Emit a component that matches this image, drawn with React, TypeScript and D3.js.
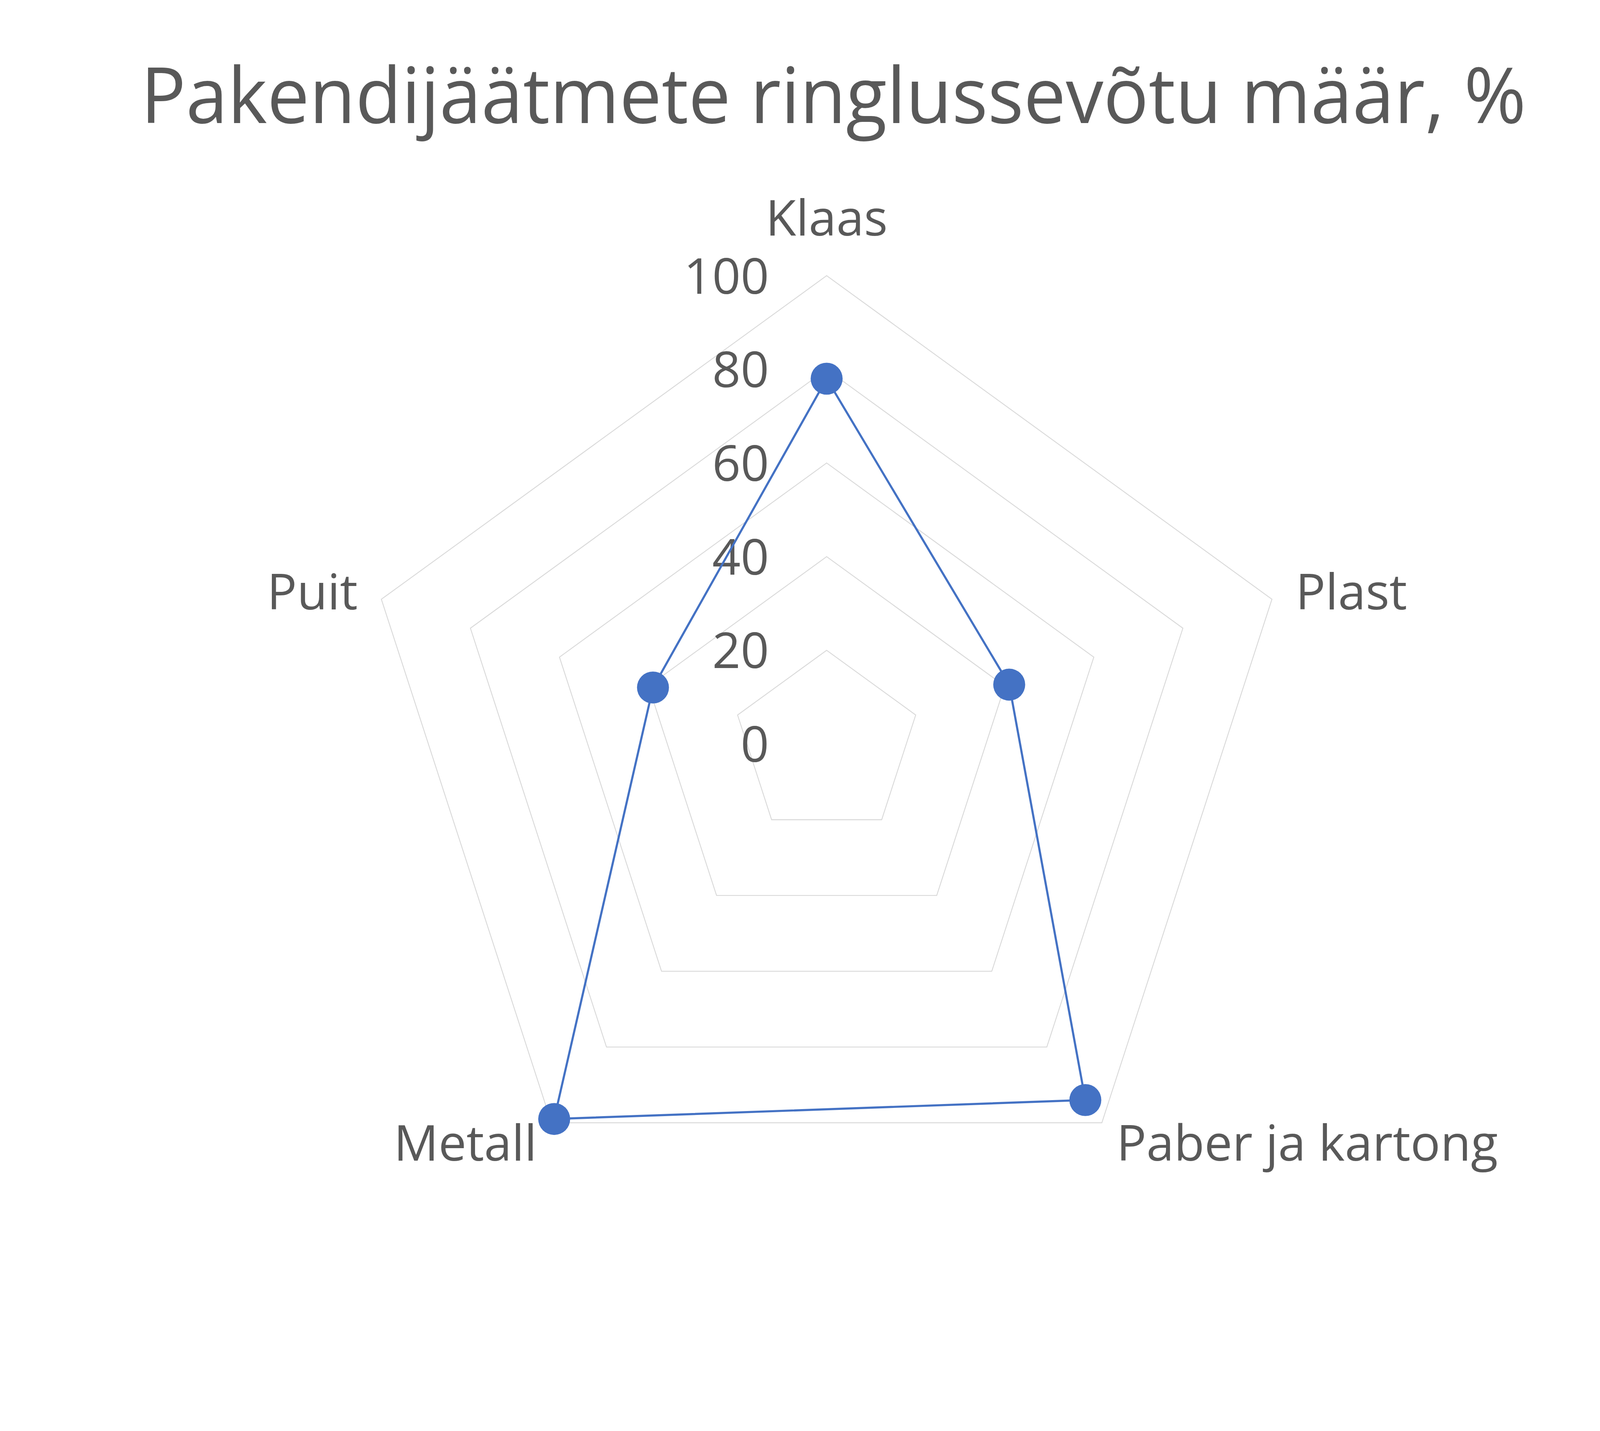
import * as d3 from 'd3'

const categories = ['Klaas', 'Plast', 'Paber ja kartong', 'Metall', 'Puit']
const values = [78, 41, 94, 99, 39]
const ticks = [0, 20, 40, 60, 80, 100]
const title = 'Pakendijäätmete ringlussevõtu määr, %'

const WIDTH = 4504
const HEIGHT = 3663
const CX = 2327
const CY = 2094
const RADIUS = 1318
const TEXT = '#595959'
const GRID = '#D9D9D9'
const SERIES = '#4472C4'
const FONT = '"Open Sans", "Noto Sans", sans-serif'

export default function App() {
  const r = d3.scaleLinear().domain([0, 100]).range([0, RADIUS])
  const angle = d3
    .scalePoint<string>()
    .domain(categories)
    .range([0, 2 * Math.PI * (1 - 1 / categories.length)])

  const radial = d3
    .lineRadial<number>()
    .angle((_, i) => angle(categories[i]) ?? 0)
    .radius(d => r(d))
    .curve(d3.curveLinearClosed)

  // 점 좌표 (위쪽이 0°, 시계방향)
  const point = (cat: string, v: number): [number, number] => {
    const a = angle(cat) ?? 0
    return [Math.sin(a) * r(v), -Math.cos(a) * r(v)]
  }

  return (
    <svg
      viewBox={`0 0 ${WIDTH} ${HEIGHT}`}
      preserveAspectRatio="xMidYMin meet"
      style={{ position: 'fixed', left: 0, top: 0, width: '100vw', height: '100vh', background: '#fff' }}
    >
      <text
        x={2346}
        y={346}
        textAnchor="middle"
        fontFamily={FONT}
        fontSize={217}
        fill={TEXT}
        textLength={3900}
        lengthAdjust="spacingAndGlyphs"
      >
        {title}
      </text>

      <g transform={`translate(${CX},${CY})`}>
        {/* 그리드 */}
        {ticks.slice(1).map(t => (
          <path
            key={t}
            d={radial(categories.map(() => t)) || ''}
            fill="none"
            stroke={GRID}
            strokeWidth={2.5}
          />
        ))}

        {/* 눈금 레이블 */}
        {ticks.map(t => (
          <text
            key={t}
            x={-162}
            y={-r(t)}
            dy="0.36em"
            textAnchor="end"
            fontFamily={FONT}
            fontSize={140}
            fill={TEXT}
          >
            {t}
          </text>
        ))}

        {/* 카테고리 레이블 */}
        {categories.map(cat => {
          const a = angle(cat) ?? 0
          const sx = Math.sin(a)
          const sy = -Math.cos(a)
          const [vx, vy] = point(cat, 100)
          if (Math.abs(sx) < 0.1) {
            return (
              <text key={cat} x={vx} y={vy - 113} textAnchor="middle" fontFamily={FONT} fontSize={140} fill={TEXT}>
                {cat}
              </text>
            )
          }
          return (
            <text
              key={cat}
              x={vx + sx * 70}
              y={vy + sy * 70}
              dy="0.36em"
              textAnchor={sx > 0 ? 'start' : 'end'}
              fontFamily={FONT}
              fontSize={140}
              fill={TEXT}
            >
              {cat}
            </text>
          )
        })}

        {/* 시리즈 */}
        <path d={radial(values) || ''} fill="none" stroke={SERIES} strokeWidth={6} strokeLinejoin="round" />
        {values.map((v, i) => {
          const [x, y] = point(categories[i], v)
          return <circle key={categories[i]} cx={x} cy={y} r={45} fill={SERIES} />
        })}
      </g>
    </svg>
  )
}
